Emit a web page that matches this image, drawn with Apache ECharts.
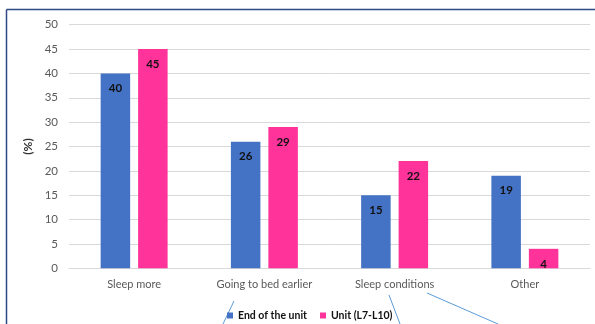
<!DOCTYPE html>
<html>
<head>
<meta charset="utf-8">
<script src="https://cdn.jsdelivr.net/npm/echarts@6/dist/echarts.min.js"></script>
<style>
html,body{margin:0;padding:0;background:#fff;}
#c{width:595px;height:324px;}
</style>
</head>
<body>
<div id="c"></div>
<script>
const categories = ['Sleep more', 'Going to bed earlier', 'Sleep conditions', 'Other'];
const endOfUnit = [40, 26, 15, 19];
const unitL7L10 = [45, 29, 22, 4];
const seriesNames = ['End of the unit', 'Unit (L7-L10)'];
const yTicks = { min: 0, max: 50, interval: 5 };

const FONT = 'Lato, "Open Sans", sans-serif';
const chart = echarts.init(document.getElementById('c'), null, { renderer: 'canvas' });

const labelStyle = {
  show: true,
  position: 'insideTop',
  distance: 9,
  fontFamily: FONT,
  fontSize: 11.5,
  fontWeight: 'bold',
  color: '#111'
};

chart.setOption({
  backgroundColor: '#fff',
  animation: false,
  grid: { left: 69, right: 5, top: 24.7, bottom: 55.7 },
  legend: {
    left: 222,
    top: 305,
    itemWidth: 6,
    itemHeight: 6,
    itemGap: 13,
    icon: 'rect',
    textStyle: { fontFamily: FONT, fontSize: 10.5, fontWeight: 'bold', color: '#111' },
    data: seriesNames
  },
  xAxis: {
    type: 'category',
    data: categories,
    axisLine: { lineStyle: { color: '#d9d9d9', width: 1 } },
    axisTick: { show: false },
    axisLabel: { fontFamily: FONT, fontSize: 11, color: '#595959', margin: 11 }
  },
  yAxis: {
    type: 'value',
    min: yTicks.min,
    max: yTicks.max,
    interval: yTicks.interval,
    name: '(%)',
    nameLocation: 'middle',
    nameGap: 33,
    nameRotate: 90,
    nameTextStyle: { fontFamily: FONT, fontSize: 12, fontWeight: 'bold', color: '#333' },
    axisLine: { show: false },
    axisTick: { show: false },
    axisLabel: { fontFamily: FONT, fontSize: 11.5, color: '#595959', margin: 11 },
    splitLine: { lineStyle: { color: '#d9d9d9', width: 1 } }
  },
  series: [
    {
      name: seriesNames[0],
      type: 'bar',
      data: endOfUnit,
      barWidth: 29.5,
      barGap: '27%',
      itemStyle: { color: '#4472C4' },
      label: labelStyle
    },
    {
      name: seriesNames[1],
      type: 'bar',
      data: unitL7L10,
      barWidth: 29.5,
      barGap: '27%',
      itemStyle: { color: '#FF3399' },
      label: labelStyle
    }
  ],
  graphic: [
    { type: 'line', z: 100, shape: { x1: 6.5, y1: 9.5, x2: 595, y2: 9.5 }, style: { stroke: '#2F4A86', lineWidth: 1.5 } },
    { type: 'line', z: 100, shape: { x1: 6.5, y1: 9.5, x2: 6.5, y2: 324 }, style: { stroke: '#2F4A86', lineWidth: 1.5 } },
    { type: 'line', z: -1, shape: { x1: 234, y1: 301, x2: 223, y2: 324 }, style: { stroke: '#5B9BD5', lineWidth: 1 } },
    { type: 'line', z: -1, shape: { x1: 389, y1: 295, x2: 400, y2: 324 }, style: { stroke: '#5B9BD5', lineWidth: 1 } },
    { type: 'line', z: -1, shape: { x1: 427, y1: 293, x2: 498, y2: 324 }, style: { stroke: '#5B9BD5', lineWidth: 1 } }
  ]
});
</script>
</body>
</html>
